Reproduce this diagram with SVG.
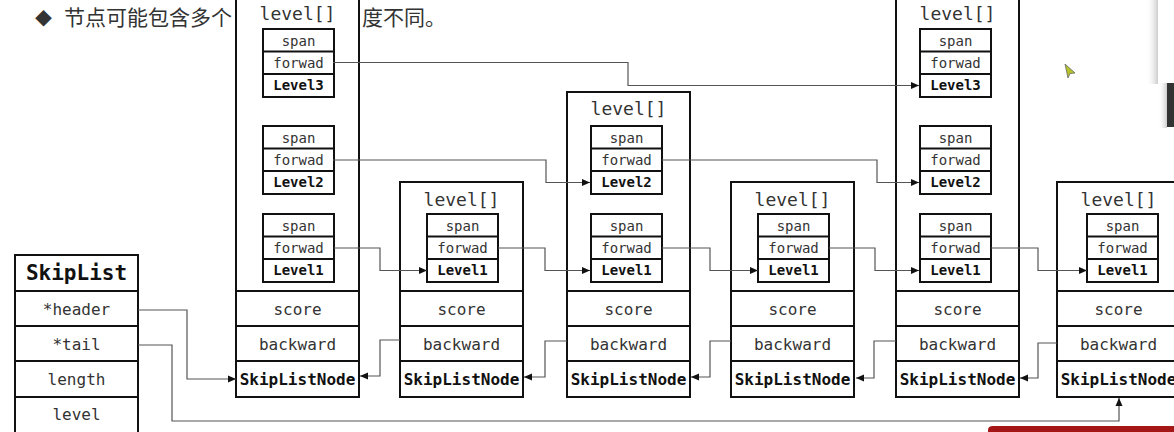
<svg xmlns="http://www.w3.org/2000/svg" width="1174" height="432" viewBox="0 0 1174 432">
<style>
.box{fill:#fff;stroke:#111;stroke-width:2}
.ln{stroke:#111;stroke-width:2;fill:none}
.t{font-family:"DejaVu Sans Mono","Liberation Mono",monospace;fill:#333;text-anchor:middle;dominant-baseline:central}
.lbl{font-size:18px}
.sm{font-size:14px}
.md{font-size:16px}
.b{font-weight:bold;fill:#111}
.cn{fill:none;stroke:#555;stroke-width:1.2}
.title{font-family:"Noto Sans CJK SC","Noto Sans",sans-serif;font-size:21px;fill:#333}
</style>
<defs>
<marker id="ar" markerWidth="8" markerHeight="8" refX="8" refY="4" orient="auto" markerUnits="userSpaceOnUse">
<path d="M0,0.5 L8,4 L0,7.5 z" fill="#111"/>
</marker>
<g id="lvl">
<rect class="box" x="0" y="0" width="71" height="68"/>
<line class="ln" x1="0" y1="22.5" x2="71" y2="22.5"/>
<line class="ln" x1="0" y1="45" x2="71" y2="45"/>
<text class="t sm" x="35.5" y="11.5">span</text>
<text class="t sm" x="35.5" y="34">forwad</text>
</g>
<g id="base">
<line class="ln" x1="0" y1="291" x2="123" y2="291"/>
<line class="ln" x1="0" y1="326" x2="123" y2="326"/>
<line class="ln" x1="0" y1="361" x2="123" y2="361"/>
<text class="t md" x="61.5" y="309">score</text>
<text class="t md" x="61.5" y="344">backward</text>
<text class="t md b" x="61.5" y="379">SkipListNode</text>
</g>
<linearGradient id="sh" x1="0" y1="0" x2="1" y2="0">
<stop offset="0" stop-color="#fff" stop-opacity="0"/>
<stop offset="1" stop-color="#ccc"/>
</linearGradient>
</defs>

<g id="title">
<text class="title" x="35" y="25" style="font-size:17px">◆</text>
<text class="title" x="64" y="25">节点可能包含多个</text>
<text class="title" x="362" y="25">度不同。</text>
</g>

<g id="node1">
<rect class="box" x="236" y="-6" width="123" height="403"/>
<text class="t lbl" x="297.5" y="13">level[]</text>
<use href="#lvl" x="263" y="29"/><text class="t sm b" x="298.5" y="85">Level3</text>
<use href="#lvl" x="263" y="126"/><text class="t sm b" x="298.5" y="182">Level2</text>
<use href="#lvl" x="263" y="214"/><text class="t sm b" x="298.5" y="270">Level1</text>
<use href="#base" x="236" y="0"/>
</g>

<g id="node2">
<rect class="box" x="400" y="182" width="123" height="215"/>
<text class="t lbl" x="461.5" y="199">level[]</text>
<use href="#lvl" x="427" y="214"/><text class="t sm b" x="462.5" y="270">Level1</text>
<use href="#base" x="400" y="0"/>
</g>

<g id="node3">
<rect class="box" x="567" y="92" width="123" height="305"/>
<text class="t lbl" x="628.5" y="108">level[]</text>
<use href="#lvl" x="591" y="126"/><text class="t sm b" x="626.5" y="182">Level2</text>
<use href="#lvl" x="591" y="214"/><text class="t sm b" x="626.5" y="270">Level1</text>
<use href="#base" x="567" y="0"/>
</g>

<g id="node4">
<rect class="box" x="731" y="182" width="123" height="215"/>
<text class="t lbl" x="792.5" y="199">level[]</text>
<use href="#lvl" x="758" y="214"/><text class="t sm b" x="793.5" y="270">Level1</text>
<use href="#base" x="731" y="0"/>
</g>

<g id="node5">
<rect class="box" x="896" y="-6" width="123" height="403"/>
<text class="t lbl" x="957.5" y="13">level[]</text>
<use href="#lvl" x="920" y="29"/><text class="t sm b" x="955.5" y="85">Level3</text>
<use href="#lvl" x="920" y="126"/><text class="t sm b" x="955.5" y="182">Level2</text>
<use href="#lvl" x="920" y="214"/><text class="t sm b" x="955.5" y="270">Level1</text>
<use href="#base" x="896" y="0"/>
</g>

<g id="node6">
<rect class="box" x="1057" y="182" width="123" height="215"/>
<text class="t lbl" x="1118.5" y="199">level[]</text>
<use href="#lvl" x="1087" y="214"/><text class="t sm b" x="1122.5" y="270">Level1</text>
<use href="#base" x="1057" y="0"/>
</g>

<g id="skiplist">
<rect class="box" x="15" y="255" width="123" height="190"/>
<line class="ln" x1="15" y1="291" x2="138" y2="291"/>
<line class="ln" x1="15" y1="326" x2="138" y2="326"/>
<line class="ln" x1="15" y1="361" x2="138" y2="361"/>
<line class="ln" x1="15" y1="397" x2="138" y2="397"/>
<text class="t b" x="76.5" y="273" style="font-size:21px">SkipList</text>
<text class="t md" x="76.5" y="309">*header</text>
<text class="t md" x="76.5" y="344">*tail</text>
<text class="t md" x="76.5" y="379">length</text>
<text class="t md" x="76.5" y="414">level</text>
</g>

<g id="connectors">
<path class="cn" marker-end="url(#ar)" d="M333,62.5 H628 V85.5 H919"/>
<path class="cn" marker-end="url(#ar)" d="M333,160 H546 V182.5 H590"/>
<path class="cn" marker-end="url(#ar)" d="M662,160 H877 V182.5 H919"/>
<path class="cn" marker-end="url(#ar)" d="M334,248 H380 V270.5 H427"/>
<path class="cn" marker-end="url(#ar)" d="M498,248 H545 V270.5 H590"/>
<path class="cn" marker-end="url(#ar)" d="M662,248 H710 V270.5 H758"/>
<path class="cn" marker-end="url(#ar)" d="M829,248 H875 V270.5 H919"/>
<path class="cn" marker-end="url(#ar)" d="M991,248 H1038 V270.5 H1087"/>
<path class="cn" marker-end="url(#ar)" d="M400,340 H380 V376 H360"/>
<path class="cn" marker-end="url(#ar)" d="M567,341 H545 V377 H524"/>
<path class="cn" marker-end="url(#ar)" d="M731,341 H710 V377 H691"/>
<path class="cn" marker-end="url(#ar)" d="M896,341 H874 V378 H856"/>
<path class="cn" marker-end="url(#ar)" d="M1057,343 H1038 V378 H1020"/>
<path class="cn" marker-end="url(#ar)" d="M138,310 H187 V379 H236"/>
<path class="cn" marker-end="url(#ar)" d="M138,345 H172 V421 H1119 V398"/>
</g>

<g id="overlay">
<rect x="1146" y="0" width="12" height="84" fill="url(#sh)"/>
<rect x="1158" y="0" width="16" height="83" fill="#fff"/>
<rect x="1158" y="83" width="9" height="45" fill="url(#sh)"/>
<rect x="1167" y="83" width="7" height="44" fill="#333"/>
<path d="M988,432 V430 Q988,426 993,426 H1174 V432 Z" fill="#a51616"/>
<path d="M1065,64 L1075,73 L1070,73.5 L1068,78 Z" fill="#b5c22a" stroke="#666" stroke-width="0.8"/>
</g>
</svg>
